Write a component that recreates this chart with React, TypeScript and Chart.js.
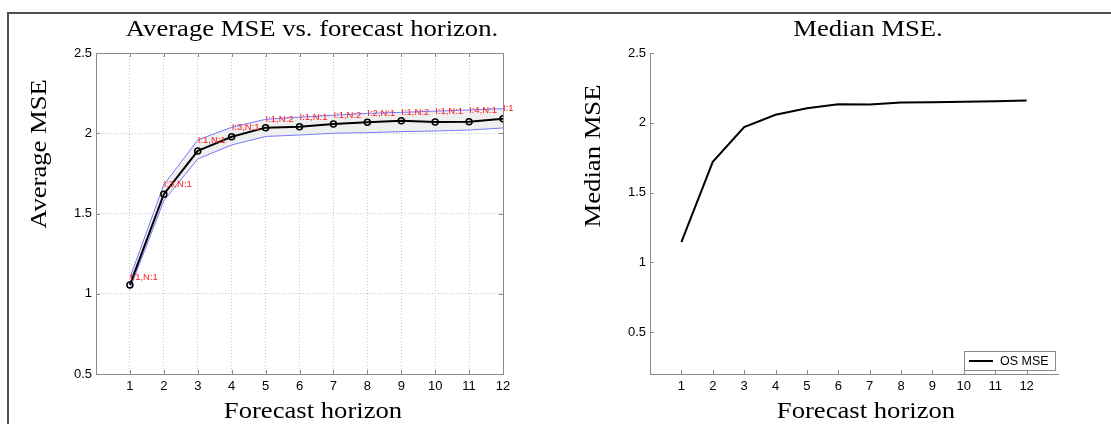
import React, { useEffect, useRef } from "react";
import { Chart, registerables } from "chart.js";

Chart.register(...registerables);

// ---------- data ----------
const horizons = [1, 2, 3, 4, 5, 6, 7, 8, 9, 10, 11, 12];
const avgMSE = [1.055, 1.62, 1.89, 1.978, 2.035, 2.04, 2.058, 2.068, 2.078, 2.07, 2.072, 2.091];
const upperMSE = [1.1, 1.68, 1.958, 2.037, 2.087, 2.1, 2.112, 2.124, 2.13, 2.138, 2.145, 2.153];
const lowerMSE = [1.03, 1.58, 1.84, 1.927, 1.98, 1.989, 2.0, 2.004, 2.01, 2.014, 2.02, 2.033];
const pointLabels = [
  "I:1,N:1", "I:3,N:1", "I:1,N:1", "I:3,N:1", "I:1,N:2", "I:1,N:1",
  "I:1,N:2", "I:2,N:1", "I:1,N:2", "I:1,N:1", "I:4,N:1", "I:1,N:1",
];
const medianMSE = [1.145, 1.72, 1.969, 2.057, 2.104, 2.133, 2.131, 2.145, 2.147, 2.151, 2.155, 2.16];
const yTicks = [0.5, 1, 1.5, 2, 2.5];
const xTicks = [1, 2, 3, 4, 5, 6, 7, 8, 9, 10, 11, 12];

const leftTitle = "Average MSE vs. forecast horizon.";
const rightTitle = "Median MSE.";
const xLabel = "Forecast horizon";
const leftYLabel = "Average MSE";
const rightYLabel = "Median MSE";
const legendLabel = "OS MSE";

const TICK_FONT = { family: "'Liberation Sans', Arial, sans-serif", size: 13 };
const SERIF = "24px 'Liberation Serif', 'Times New Roman', serif";
const AXIS_GRAY = "#8a8a8a";

function pts(ys: number[]) {
  return horizons.map((x, i) => ({ x, y: ys[i] }));
}

function serifText(ctx: CanvasRenderingContext2D, text: string, x: number, y: number, rot: number) {
  ctx.save();
  ctx.translate(x, y);
  ctx.rotate(rot);
  ctx.scale(1.11, 1);
  ctx.font = SERIF;
  ctx.fillStyle = "#000";
  ctx.textAlign = "center";
  ctx.textBaseline = "alphabetic";
  ctx.fillText(text, 0, 0);
  ctx.restore();
}

function drawInwardTicks(chart: any, box: boolean) {
  const ctx = chart.ctx as CanvasRenderingContext2D;
  const { left, right, top, bottom } = chart.chartArea;
  const xs = chart.scales.x;
  const ys = chart.scales.y;
  ctx.save();
  ctx.strokeStyle = AXIS_GRAY;
  ctx.lineWidth = 1;
  ctx.beginPath();
  xTicks.forEach((v) => {
    const px = Math.round(xs.getPixelForValue(v)) + 0.5;
    ctx.moveTo(px, bottom);
    ctx.lineTo(px, bottom - 4);
    if (box) {
      ctx.moveTo(px, top);
      ctx.lineTo(px, top + 4);
    }
  });
  yTicks.forEach((v) => {
    const py = Math.round(ys.getPixelForValue(v)) + 0.5;
    ctx.moveTo(left, py);
    ctx.lineTo(left + 4, py);
    if (box) {
      ctx.moveTo(right, py);
      ctx.lineTo(right - 4, py);
    }
  });
  ctx.stroke();
  if (box) {
    ctx.strokeRect(Math.round(left) + 0.5, Math.round(top) + 0.5, Math.round(right - left), Math.round(bottom - top));
  }
  ctx.restore();
}

const leftPlugin = {
  id: "leftDecor",
  afterDraw(chart: any) {
    const ctx = chart.ctx as CanvasRenderingContext2D;
    drawInwardTicks(chart, true);
    const xs = chart.scales.x;
    const ys = chart.scales.y;
    ctx.save();
    ctx.beginPath();
    ctx.rect(0, 0, 514, chart.height);
    ctx.clip();
    ctx.font = "9.5px 'Liberation Sans', Arial, sans-serif";
    ctx.fillStyle = "#ff1a1a";
    ctx.textAlign = "left";
    ctx.textBaseline = "middle";
    pointLabels.forEach((lab, i) => {
      ctx.fillText(lab, xs.getPixelForValue(horizons[i]), ys.getPixelForValue(upperMSE[i]));
    });
    ctx.restore();
    serifText(ctx, leftTitle, 312, 36, 0);
    serifText(ctx, xLabel, 313, 418, 0);
    serifText(ctx, leftYLabel, 46, 154, -Math.PI / 2);
  },
};

const rightPlugin = {
  id: "rightDecor",
  afterDraw(chart: any) {
    const ctx = chart.ctx as CanvasRenderingContext2D;
    drawInwardTicks(chart, false);
    // legend
    const ds = chart.data.datasets[0];
    ctx.save();
    const lx = 409, ly = 351, lw = 91, lh = 19;
    ctx.fillStyle = "#fff";
    ctx.fillRect(lx, ly, lw, lh);
    ctx.strokeStyle = AXIS_GRAY;
    ctx.lineWidth = 1;
    ctx.strokeRect(lx + 0.5, ly + 0.5, lw, lh);
    ctx.strokeStyle = ds.borderColor;
    ctx.lineWidth = 2;
    ctx.beginPath();
    ctx.moveTo(lx + 5, ly + 10);
    ctx.lineTo(lx + 29, ly + 10);
    ctx.stroke();
    ctx.fillStyle = "#000";
    ctx.font = "12.5px 'Liberation Sans', Arial, sans-serif";
    ctx.textAlign = "left";
    ctx.textBaseline = "middle";
    ctx.fillText(ds.label, lx + 36, ly + 10.5);
    ctx.restore();
    serifText(ctx, rightTitle, 313, 36, 0);
    serifText(ctx, xLabel, 311, 418, 0);
    serifText(ctx, rightYLabel, 45, 156, -Math.PI / 2);
  },
};

export default function App() {
  const leftRef = useRef<HTMLCanvasElement>(null);
  const rightRef = useRef<HTMLCanvasElement>(null);

  useEffect(() => {
    const gridOpts = { color: "#c4c4c4", lineWidth: 1, drawTicks: false };
    const left = new Chart(leftRef.current!, {
      type: "line",
      data: {
        datasets: [
          {
            label: "upper",
            data: pts(upperMSE),
            borderColor: "#7878ff",
            borderWidth: 1,
            pointRadius: 0,
            fill: "+1",
            backgroundColor: "#efefef",
            tension: 0,
            order: 2,
          },
          {
            label: "lower",
            data: pts(lowerMSE),
            borderColor: "#7878ff",
            borderWidth: 1,
            pointRadius: 0,
            fill: false,
            tension: 0,
            order: 2,
          },
          {
            label: "Average MSE",
            data: pts(avgMSE),
            borderColor: "#000",
            borderWidth: 2,
            pointRadius: 3,
            pointBorderWidth: 1.5,
            pointBorderColor: "#000",
            pointBackgroundColor: "rgba(0,0,0,0)",
            fill: false,
            tension: 0,
            order: 1,
          },
        ],
      },
      options: {
        animation: false,
        responsive: false,
        events: [],
        layout: { padding: { left: 0, top: 53, right: 52, bottom: 0 } },
        plugins: {
          legend: { display: false },
          tooltip: { enabled: false },
          title: { display: false },
          filler: { drawTime: "beforeDatasetsDraw" },
        },
        scales: {
          x: {
            type: "linear",
            min: 0,
            max: 12,
            afterBuildTicks: (s: any) => { s.ticks = xTicks.map((v) => ({ value: v })); },
            afterFit: (s: any) => { s.height = 50; },
            ticks: { font: TICK_FONT, color: "#000", padding: 5, maxRotation: 0, autoSkip: false },
            grid: gridOpts,
            border: { display: false, dash: [1, 2] },
          },
          y: {
            type: "linear",
            min: 0.5,
            max: 2.5,
            afterBuildTicks: (s: any) => { s.ticks = yTicks.map((v) => ({ value: v })); },
            afterFit: (s: any) => { s.width = 96; },
            ticks: { font: TICK_FONT, color: "#000", padding: 4, callback: (v: any) => String(v) },
            grid: gridOpts,
            border: { display: false, dash: [1, 2] },
          },
        },
      },
      plugins: [leftPlugin],
    } as any);

    const right = new Chart(rightRef.current!, {
      type: "line",
      data: {
        datasets: [
          {
            label: legendLabel,
            data: pts(medianMSE),
            borderColor: "#000",
            borderWidth: 2,
            pointRadius: 0,
            fill: false,
            tension: 0,
          },
        ],
      },
      options: {
        animation: false,
        responsive: false,
        events: [],
        layout: { padding: { left: 0, top: 53, right: 53, bottom: 0 } },
        plugins: { legend: { display: false }, tooltip: { enabled: false }, title: { display: false } },
        scales: {
          x: {
            type: "linear",
            min: 0,
            max: 13,
            afterBuildTicks: (s: any) => { s.ticks = xTicks.map((v) => ({ value: v })); },
            afterFit: (s: any) => { s.height = 50; },
            ticks: { font: TICK_FONT, color: "#000", padding: 5, maxRotation: 0, autoSkip: false },
            grid: { display: false, drawTicks: false },
            border: { display: true, color: AXIS_GRAY, width: 1 },
          },
          y: {
            type: "linear",
            min: 0.2,
            max: 2.5,
            afterBuildTicks: (s: any) => { s.ticks = yTicks.map((v) => ({ value: v })); },
            afterFit: (s: any) => { s.width = 95; },
            ticks: { font: TICK_FONT, color: "#000", padding: 4, callback: (v: any) => String(v) },
            grid: { display: false, drawTicks: false },
            border: { display: true, color: AXIS_GRAY, width: 1 },
          },
        },
      },
      plugins: [rightPlugin],
    } as any);

    return () => {
      left.destroy();
      right.destroy();
    };
  }, []);

  return (
    <div style={{ position: "absolute", left: 0, top: 0, width: 1111, height: 424, background: "#fff", overflow: "hidden" }}>
      <div
        style={{
          position: "absolute",
          left: 7,
          top: 12,
          width: 1104,
          height: 412,
          borderTop: "2px solid #505050",
          borderLeft: "2px solid #505050",
          boxSizing: "border-box",
        }}
      />
      <canvas ref={leftRef} width={555} height={424} style={{ position: "absolute", left: 0, top: 0, width: 555, height: 424 }} />
      <canvas ref={rightRef} width={556} height={424} style={{ position: "absolute", left: 555, top: 0, width: 556, height: 424 }} />
    </div>
  );
}
